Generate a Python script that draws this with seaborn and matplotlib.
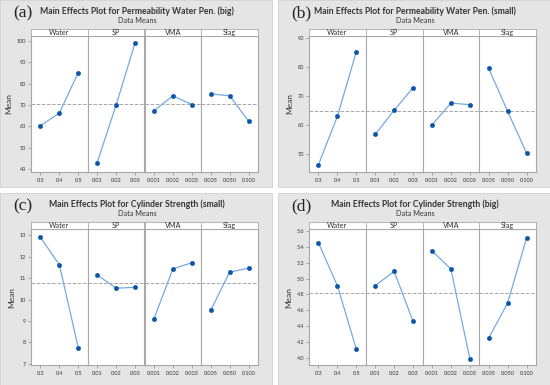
import numpy as np
import pandas as pd
import matplotlib
matplotlib.use('Agg')
import matplotlib.pyplot as plt
import seaborn as sn
from matplotlib.patches import Rectangle

# factors and their levels
factors = ['Water', 'SP', 'VMA', 'Slag']
water_levels = ['0.3', '0.4', '0.5']
sp_levels = ['0.01', '0.02', '0.03']
vma_levels = ['0.001', '0.002', '0.003']
slag_levels = ['0.005', '0.050', '0.100']
levels = [water_levels, sp_levels, vma_levels, slag_levels]

# means (Water, SP, VMA, Slag)
perm_big = [[60.3, 66.2, 85.2], [43.0, 70.0, 99.0], [67.3, 74.3, 70.2], [75.2, 74.3, 62.4]]
perm_small = [[46.2, 63.0, 85.3], [56.7, 65.1, 72.9], [60.0, 67.6, 67.0], [79.6, 64.7, 50.3]]
cyl_small = [[12.9, 11.62, 7.75], [11.15, 10.53, 10.57], [9.1, 11.43, 11.72], [9.5, 11.28, 11.46]]
cyl_big = [[5.45, 4.91, 4.11], [4.91, 5.09, 4.46], [5.35, 5.12, 3.99], [4.25, 4.69, 5.51]]

titles = ['Main Effects Plot for Permeability Water Pen. (big)',
          'Main Effects Plot for Permeability Water Pen. (small)',
          'Main Effects Plot for Cylinder Strength (small)',
          'Main Effects Plot for Cylinder Strength (big)']
tags = ['(a)', '(b)', '(c)', '(d)']
ticks_a = [40, 50, 60, 70, 80, 90, 100]
ticks_b = [50, 60, 70, 80, 90]
ticks_c = [7, 8, 9, 10, 11, 12, 13]
ticks_d = [4.0, 4.2, 4.4, 4.6, 4.8, 5.0, 5.2, 5.4, 5.6]

panels = [
    (perm_big, ticks_a, (38.6, 102.3), '{:.0f}', (0, 0, 272, 187)),
    (perm_small, ticks_b, (43.7, 90.8), '{:.0f}', (278, 0, 272, 187)),
    (cyl_small, ticks_c, (6.95, 13.29), '{:.0f}', (0, 193, 272, 192)),
    (cyl_big, ticks_d, (3.908, 5.625), '{:.1f}', (278, 193, 272, 192)),
]

W, H = 550, 385
fig = plt.figure(figsize=(5.5, 3.85), dpi=100)
fig.patch.set_facecolor('white')
font = 'Lato'
line_col = '#74aae4'
dot_col = '#0a55a8'
sep_col = '#a8a8a8'

def fx(px):
    return px / W

def fy(py):
    return 1 - py / H

for i, (vals, yt, ylim, fmt, box) in enumerate(panels):
    x0, y0, w, h = box
    fig.patches.append(Rectangle((fx(x0), fy(y0 + h)), w / W, h / H, transform=fig.transFigure,
                                 facecolor='#e5e5e5', edgecolor='#d0d0d0', lw=0.6, zorder=-5))
    fig.text(fx(x0 + 13), fy(y0 + 13), tags[i], fontfamily='Liberation Serif', fontsize=12.5,
             va='center', ha='left', color='#222222')
    fig.text(fx(x0 + 137), fy(y0 + 11.5), titles[i], fontfamily=font, fontsize=6.2,
             fontweight='bold', ha='center', va='center', color='#333333')
    fig.text(fx(x0 + 137), fy(y0 + 20.5), 'Data Means', fontfamily=font, fontsize=5.2,
             ha='center', va='center', color='#333333')

    left, right = x0 + 31, x0 + 258
    htop, hbot, bot = y0 + 29, y0 + 36, y0 + 172
    sw = (right - left) / 4
    grand = np.mean(vals)

    for k in range(4):
        ax = fig.add_axes([fx(left + k * sw), fy(bot), sw / W, (bot - hbot) / H])
        df = pd.DataFrame({'level': levels[k], 'mean': vals[k]})
        ax.axhline(grand, color='#a8a8a8', ls='--', lw=0.7, zorder=1)
        sn.pointplot(data=df, x='level', y='mean', order=levels[k], ax=ax, color=line_col,
                     linewidth=0.9, markersize=3.2, markerfacecolor=dot_col,
                     markeredgecolor=dot_col, markeredgewidth=0.3, errorbar=None)
        ax.set_xlim(-0.5, 2.5)
        ax.set_ylim(*ylim)
        ax.set_facecolor('white')
        ax.set_xlabel('')
        for s in ax.spines.values():
            s.set_color(sep_col)
            s.set_linewidth(0.8)
        ax.tick_params(axis='x', labelsize=4.0, length=2, width=0.5, color='#888888',
                       labelcolor='#333333', pad=2)
        if k == 0:
            ax.set_yticks(yt)
            ax.set_yticklabels([fmt.format(t) for t in yt], fontfamily=font)
            ax.tick_params(axis='y', labelsize=4.0, length=2, width=0.5, color='#888888',
                           labelcolor='#333333', pad=1.5)
            ax.set_ylabel('Mean', fontfamily=font, fontsize=6, color='#333333', labelpad=3)
        else:
            ax.set_yticks([])
            ax.set_ylabel('')
        for lab in ax.get_xticklabels():
            lab.set_fontfamily(font)

        hx = fig.add_axes([fx(left + k * sw), fy(hbot), sw / W, (hbot - htop) / H])
        hx.set_facecolor('white')
        hx.set_xticks([])
        hx.set_yticks([])
        for s in hx.spines.values():
            s.set_color(sep_col)
            s.set_linewidth(0.6)
        hx.text(0.5, 0.45, factors[k], transform=hx.transAxes, ha='center', va='center',
                fontfamily=font, fontsize=5.2, color='#333333')

fig.savefig('out.png', dpi=100)
